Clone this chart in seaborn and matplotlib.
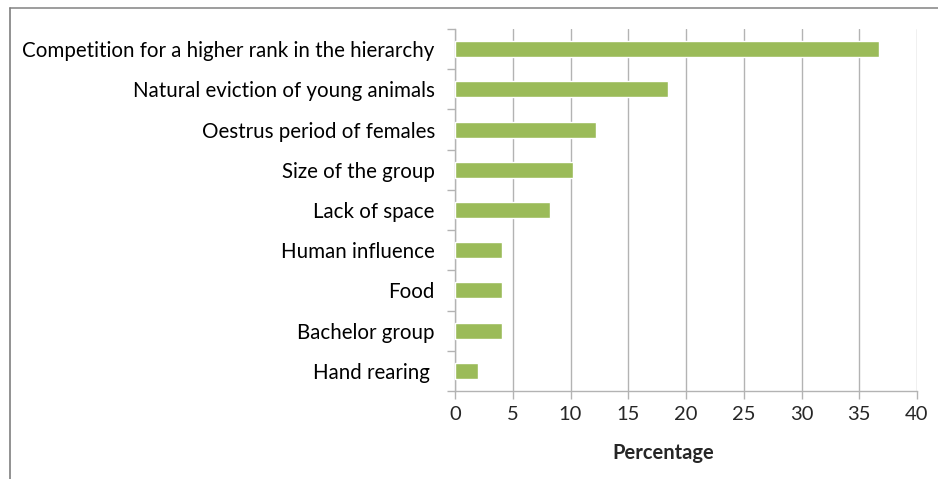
import numpy as np
import pandas as pd
import seaborn as sns
import matplotlib.pyplot as plt
from matplotlib.lines import Line2D

# data
reasons = ['Competition for a higher rank in the hierarchy',
           'Natural eviction of young animals',
           'Oestrus period of females',
           'Size of the group',
           'Lack of space',
           'Human influence',
           'Food',
           'Bachelor group',
           'Hand rearing ']
percentage = [36.7, 18.4, 12.2, 10.2, 8.2, 4.1, 4.1, 4.1, 2.0]

df = pd.DataFrame({'reason': reasons, 'percentage': percentage})

sns.set_theme(style='white')
plt.rcParams['font.family'] = ['Lato', 'DejaVu Sans']

fig = plt.figure(figsize=(9.38, 4.79), dpi=100)
ax = fig.add_axes([455 / 938, 1 - 391 / 479, 462 / 938, 362 / 479])

sns.barplot(data=df, x='percentage', y='reason', orient='h',
            color='#9BBB59', saturation=1, width=0.4, ax=ax, zorder=3)

ax.set_xlim(0, 40)
ax.set_xticks(range(0, 41, 5))
ax.set_ylim(len(reasons) - 0.5, -0.5)
ax.grid(axis='x', color='#b3b3b3', linewidth=1, zorder=0)

# category separators on the y axis
ax.set_yticks(np.arange(-0.5, len(reasons), 1), minor=True)
ax.tick_params(axis='y', which='major', length=0, pad=14.5, labelsize=14.8, colors='black')
ax.tick_params(axis='y', which='minor', length=6, width=1, color='#b3b3b3', left=True)
ax.tick_params(axis='x', which='major', length=6, width=1, color='#b3b3b3',
               bottom=True, direction='out', labelsize=14.5, pad=5)

for s in ['top', 'right']:
    ax.spines[s].set_visible(False)
for s in ['left', 'bottom']:
    ax.spines[s].set_color('#b3b3b3')
    ax.spines[s].set_linewidth(1)

ax.set_xlabel('Percentage', fontsize=14.5, fontweight='bold')
ax.xaxis.set_label_coords((663 - 455) / 462, -(443 - 391) / 362, transform=ax.transAxes)
ax.set_ylabel('')

# chart frame (only top and left edges visible in the crop)
fig.add_artist(Line2D([9.5 / 938, 1], [1 - 8 / 479, 1 - 8 / 479],
                      color='#8c8c8c', linewidth=1.2, transform=fig.transFigure))
fig.add_artist(Line2D([9.5 / 938, 9.5 / 938], [0, 1 - 8 / 479],
                      color='#7f7f7f', linewidth=1.2, transform=fig.transFigure))

fig.savefig('out.png', dpi=100)
